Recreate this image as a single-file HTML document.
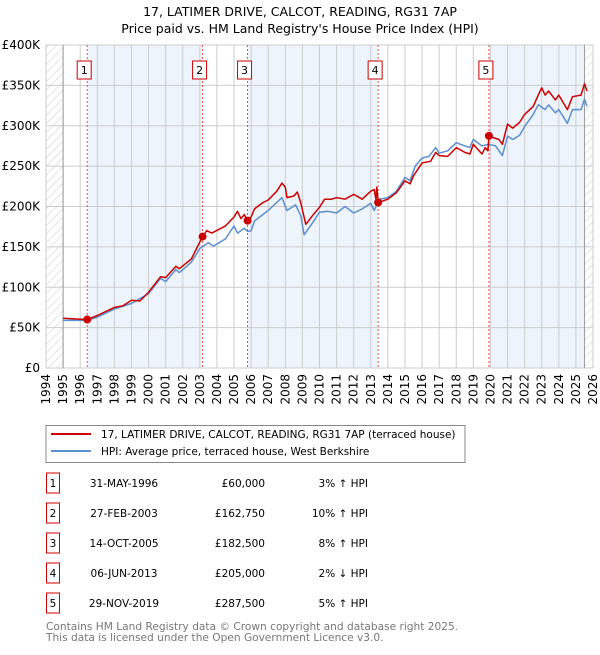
<!DOCTYPE html>
<html><head><meta charset="utf-8"><style>
body{margin:0;background:#fff;font-family:"Liberation Sans","DejaVu Sans",sans-serif;}
svg text{font-family:"DejaVu Sans","Liberation Sans",sans-serif;}
</style></head><body>
<svg width="600" height="650" viewBox="0 0 600 650" xmlns="http://www.w3.org/2000/svg">
<defs><pattern id="hatch" width="6" height="6" patternUnits="userSpaceOnUse" patternTransform="rotate(45)"><line x1="0" y1="0" x2="0" y2="6" stroke="#ccc" stroke-width="1"/></pattern></defs>
<text x="300" y="16" text-anchor="middle" font-size="12.5">17, LATIMER DRIVE, CALCOT, READING, RG31 7AP</text>
<text x="300" y="33" text-anchor="middle" font-size="12.5">Price paid vs. HM Land Registry's House Price Index (HPI)</text>
<g id="plot"></g>
<g>
<rect x="46" y="425.5" width="419" height="37" fill="#fff" stroke="#888"/>
<line x1="51" y1="434" x2="91" y2="434" stroke="#cc0000" stroke-width="2"/>
<text x="101" y="438" font-size="10.5">17, LATIMER DRIVE, CALCOT, READING, RG31 7AP (terraced house)</text>
<line x1="51" y1="451" x2="91" y2="451" stroke="#5b8fd0" stroke-width="2"/>
<text x="101" y="455" font-size="10.5">HPI: Average price, terraced house, West Berkshire</text>
</g>
<g id="table"></g>
<text x="46" y="630" font-size="10.6" fill="#777">Contains HM Land Registry data © Crown copyright and database right 2025.</text>
<text x="46" y="641" font-size="10.6" fill="#777">This data is licensed under the Open Government Licence v3.0.</text>
</svg>
<script>
const saleYears=[1996.41,2003.16,2005.79,2013.43,2019.91];
const saleValues=[60000,162750,182500,205000,287500];
const saleDates=["31-MAY-1996","27-FEB-2003","14-OCT-2005","06-JUN-2013","29-NOV-2019"];
const salePrices=["£60,000","£162,750","£182,500","£205,000","£287,500"];
const saleHpi=["3% ↑ HPI","10% ↑ HPI","8% ↑ HPI","2% ↓ HPI","5% ↑ HPI"];
const redYears=[1995,1996.41,1997,1998,1998.5,1999,1999.5,2000,2000.7,2001,2001.6,2001.8,2002.5,2003,2003.16,2003.4,2003.7,2004.5,2005,2005.2,2005.4,2005.6,2005.79,2006,2006.2,2006.7,2007,2007.5,2007.8,2008,2008.1,2008.5,2008.7,2008.9,2009.2,2009.6,2010,2010.3,2010.7,2011,2011.5,2012,2012.5,2013,2013.2,2013.3,2013.35,2013.43,2014,2014.5,2015,2015.3,2015.5,2016,2016.5,2016.8,2017,2017.5,2018,2018.5,2018.8,2019,2019.5,2019.7,2019.85,2019.91,2020.2,2020.5,2020.7,2021,2021.3,2021.7,2022,2022.5,2022.8,2023,2023.2,2023.4,2023.8,2024,2024.5,2024.8,2025.3,2025.5,2025.65];
const redValues=[61.5,60,65,75,77,84,83,94,113,112,126,123,135,156,162.75,170,167,176,187,194,185,190,182.5,187,197,205,208,219,229,224,211,213,218,205,178,189,199,209,209,211,209,215,209,219,221,209,224,205,209,217,232,228,238,254,256,267,263,262,273,267,265,277,265,273,269,287.5,285,283,277,302,297,304,314,324,338,347,338,343,332,338,320,336,338,352,343];
const hpiYears=[1995,1996.4,1997,1998,1999,2000,2000.7,2001,2001.6,2001.8,2002.5,2003,2003.5,2003.8,2004.5,2005,2005.2,2005.6,2005.8,2006,2006.2,2007,2007.8,2008.1,2008.6,2008.9,2009.1,2009.6,2010,2010.5,2011,2011.5,2012,2012.5,2013,2013.2,2013.5,2014,2014.5,2015,2015.3,2015.6,2016,2016.4,2016.8,2017,2017.5,2018,2018.5,2018.8,2019,2019.5,2019.9,2020.3,2020.7,2021,2021.3,2021.7,2022,2022.5,2022.8,2023.2,2023.4,2023.8,2024,2024.5,2024.8,2025.3,2025.5,2025.65];
const hpiValues=[59,59,63,73,80,92,111,107,122,118,131,148,155,151,160,176,167,173,169,170,182,195,211,195,202,189,165,180,193,194,192,200,192,197,204,195,209,211,219,236,232,250,260,262,273,266,269,279,275,273,283,275,277,275,263,287,283,288,299,314,326,320,326,316,320,303,320,320,333,324];
const yTicks=[0,50,100,150,200,250,300,350,400];
const yTickLabels=["£0","£50K","£100K","£150K","£200K","£250K","£300K","£350K","£400K"];

const X0=46,X1=593,Y0=368,Y1=45;
const xs=y=>X0+(y-1994)/(2026-1994)*(X1-X0);
const ys=v=>Y0-v/400*(Y0-Y1);
const NS="http://www.w3.org/2000/svg";
const plot=document.getElementById('plot');
function mk(tag,attrs,parent){const e=document.createElementNS(NS,tag);for(const k in attrs)e.setAttribute(k,attrs[k]);(parent||plot).appendChild(e);return e;}
const bandEdges=[1995].concat(saleYears,[2025.5]);
for(let i=0;i<bandEdges.length-1;i++){
 const r=mk('rect',{x:xs(bandEdges[i]),y:Y1,width:xs(bandEdges[i+1])-xs(bandEdges[i]),height:Y0-Y1,fill:i%2?'#eef4fc':'#fff'});
 
 
}
const h1=mk('rect',{x:X0,y:Y1,width:xs(1995)-X0,height:Y0-Y1,fill:'url(#hatch)'});


const h2=mk('rect',{x:xs(2025.5),y:Y1,width:X1-xs(2025.5),height:Y0-Y1,fill:'url(#hatch)'});


for(let y=1994;y<=2026;y++){const l=mk('line',{x1:xs(y),x2:xs(y),y1:Y1,y2:Y0,stroke:'#ccc','stroke-width':1});
 
 
 const t=mk('text',{x:0,y:0,'font-size':12,'text-anchor':'end',transform:`translate(${xs(y)+4},${Y0+6}) rotate(-90)`});t.textContent=y;
 
 }
yTicks.forEach((v,i)=>{const l=mk('line',{x1:X0,x2:X1,y1:ys(v),y2:ys(v),stroke:'#ccc','stroke-width':1});
 
 
 const t=mk('text',{x:X0-6,y:ys(v)+4,'font-size':12,'text-anchor':'end'});t.textContent=yTickLabels[i];
 
 });
[1995,2025.5].forEach(y=>{const l=mk('line',{x1:xs(y),x2:xs(y),y1:Y1,y2:Y0,stroke:'#999','stroke-width':1});
 
 });
saleYears.forEach((y,i)=>{const l=mk('line',{x1:xs(y),x2:xs(y),y1:Y1,y2:Y0,stroke:'#e05050','stroke-width':1,'stroke-dasharray':'2,2'});
 
 
 const bx=xs(y)-9;
 const r=mk('rect',{x:bx-1,y:61,width:14,height:18,fill:'#fff',stroke:'#cc0000'});
 
 
 const t=mk('text',{x:bx+6,y:74,'font-size':11,'text-anchor':'middle'});t.textContent=i+1;
 
 });
function line(xsA,vs,color,name){const d=xsA.map((y,i)=>(i?'L':'M')+xs(y).toFixed(1)+','+ys(vs[i]).toFixed(1)).join('');
 const p=mk('path',{d:d,fill:'none',stroke:color,'stroke-width':1.5,'stroke-linejoin':'round'});
 
 }
line(hpiYears,hpiValues,'#5b8fd0','hpi-line');
line(redYears,redValues,'#cc0000','property-price-line');
saleYears.forEach((y,i)=>{const c=mk('circle',{cx:xs(y),cy:ys(saleValues[i]/1000),r:4,fill:'#cc0000'});
 
 });
const tbl=document.getElementById('table');
saleDates.forEach((d,i)=>{const cy=483+i*30;
 const r=mk('rect',{x:46.5,y:cy-10,width:13,height:20,fill:'#fff',stroke:'#cc0000'},tbl);
 
 
 const cells=[[53,'middle',i+1],[124,'middle',d],[265,'end',salePrices[i]],[368,'end',saleHpi[i]]];
 cells.forEach(c=>{const t=mk('text',{x:c[0],y:cy+4,'font-size':10.5,'text-anchor':c[1]},tbl);t.textContent=c[2];
 
 });});
</script>
</body></html>
